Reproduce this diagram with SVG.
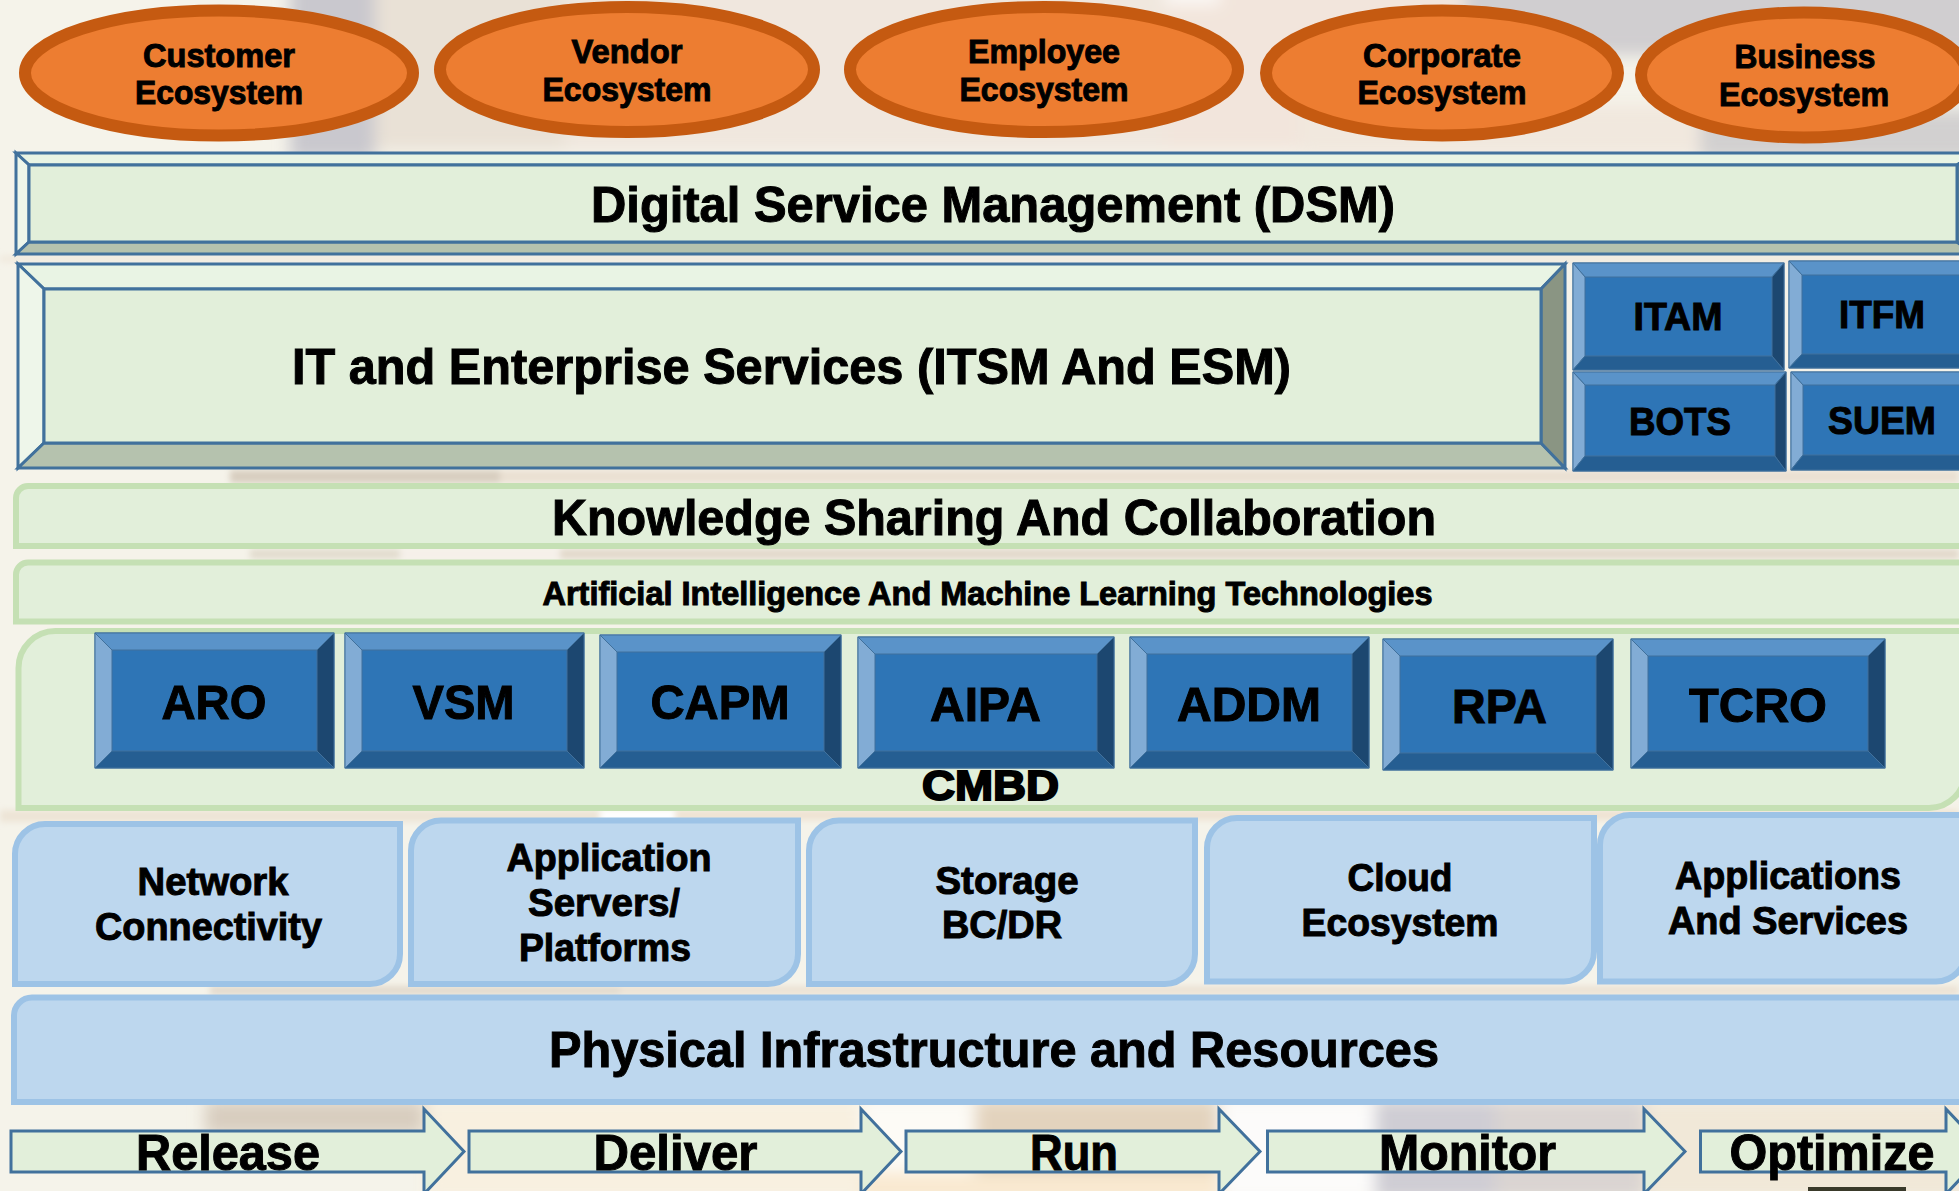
<svg xmlns="http://www.w3.org/2000/svg" width="1959" height="1191" viewBox="0 0 1959 1191">
<defs>
<filter id="blur" x="-20%" y="-20%" width="140%" height="140%"><feGaussianBlur stdDeviation="8"/></filter>
<filter id="soft" x="-5%" y="-50%" width="110%" height="200%"><feGaussianBlur stdDeviation="3"/></filter>
</defs>
<style>
text{font-family:"Liberation Sans",Arial,sans-serif;font-weight:700;fill:#000;stroke:#000;stroke-width:1;text-anchor:middle}
.eco{fill:#ED7D31;stroke:#C55A11;stroke-width:12}
.e{font-size:34px}
.big{font-size:50px}
.btn{font-size:49px}
.sm{font-size:39px}
.lb{font-size:38px}
.ar{font-size:50px}
.bl{stroke:#41719C;stroke-width:3;stroke-linejoin:miter}
.g0{fill:#E2EFDA}.g1{fill:#E9F4E4}.g2{fill:#EEF6EA}.g3{fill:#B5C2AE}.g4{fill:#8A9583}
.kb{fill:#E2EFDA;stroke:#C5E0B4;stroke-width:6}
.lbx{fill:#BDD7EE;stroke:#9DC3E6;stroke-width:6}
.bevel polygon,.bevel rect{stroke:#41719C;stroke-width:1}
.m{fill:#2E75B6}.t{fill:#5A93C9}.l{fill:#82ACD5}.b{fill:#255E92}.r{fill:#1C4770}
</style>
<g id="background">
<rect width="1959" height="1191" fill="#F5F3EA"/>
<g filter="url(#blur)">
<rect x="375" y="-20" width="190" height="170" fill="#E9E1D6"/>
<rect x="565" y="-20" width="600" height="170" fill="#F0E7DE"/>
<rect x="1165" y="-20" width="300" height="170" fill="#F2E5DC"/>
<rect x="1165" y="-20" width="55" height="25" fill="#FBF8F4"/>
<rect x="1465" y="-20" width="520" height="75" fill="#D0CED0"/>
<rect x="1300" y="105" width="400" height="50" fill="#F1E8DE"/>
<rect x="1700" y="110" width="280" height="50" fill="#D2D0D0"/>
<rect x="290" y="-20" width="85" height="180" fill="#C9C8CE"/>
<rect x="205" y="1100" width="220" height="35" fill="#D8CDBF"/>
<rect x="425" y="1100" width="437" height="100" fill="#F8F0E0"/>
<rect x="862" y="1100" width="115" height="100" fill="#FDFBF6"/>
<rect x="975" y="1100" width="244" height="100" fill="#E3D3BD"/>
<rect x="1219" y="1100" width="156" height="100" fill="#FCFBFA"/>
<rect x="1375" y="1100" width="120" height="100" fill="#CFCDD4"/>
<rect x="1495" y="1100" width="150" height="100" fill="#DAD4D2"/>
<rect x="1645" y="1100" width="320" height="100" fill="#F1E8D8"/>
<rect x="862" y="1172" width="360" height="30" fill="#F9E9D0"/>
</g>
<g filter="url(#soft)">
<rect x="0" y="256" width="1959" height="6" fill="#F0E8DC"/>
<rect x="230" y="470" width="270" height="13" fill="#D8CEC0"/>
<rect x="500" y="470" width="1459" height="13" fill="#EAE0D2"/>
<rect x="250" y="549" width="150" height="10" fill="#E2DCCE"/>
<rect x="400" y="549" width="160" height="10" fill="#F6F0EA"/>
<rect x="560" y="549" width="1399" height="10" fill="#E2D8CA"/>
<rect x="0" y="810" width="600" height="12" fill="#EDE4D6"/>
<rect x="600" y="810" width="75" height="12" fill="#FFFFFF"/>
<rect x="675" y="810" width="1284" height="10" fill="#EEE2D2"/>
<rect x="210" y="986" width="410" height="9" fill="#E2D9CC"/>
<rect x="620" y="986" width="1339" height="9" fill="#EBE1D3"/>
</g>
<rect x="1808" y="1187" width="98" height="4" fill="#3A3A2A"/>
</g>
<g id="connectors"/>
<g id="customer-ecosystem"><ellipse class="eco" cx="219" cy="73" rx="194" ry="62.5"/><text class="e" x="219" y="67" textLength="152" lengthAdjust="spacingAndGlyphs">Customer</text><text class="e" x="219" y="104" textLength="168" lengthAdjust="spacingAndGlyphs">Ecosystem</text></g>
<g id="vendor-ecosystem"><ellipse class="eco" cx="627" cy="69.5" rx="187" ry="62.5"/><text class="e" x="627" y="62.5" textLength="111" lengthAdjust="spacingAndGlyphs">Vendor</text><text class="e" x="627" y="100.5" textLength="169" lengthAdjust="spacingAndGlyphs">Ecosystem</text></g>
<g id="employee-ecosystem"><ellipse class="eco" cx="1044" cy="69.5" rx="194" ry="62.5"/><text class="e" x="1044" y="62.5" textLength="152" lengthAdjust="spacingAndGlyphs">Employee</text><text class="e" x="1044" y="100.5" textLength="169" lengthAdjust="spacingAndGlyphs">Ecosystem</text></g>
<g id="corporate-ecosystem"><ellipse class="eco" cx="1442" cy="73" rx="176" ry="62.5"/><text class="e" x="1442" y="67" textLength="158" lengthAdjust="spacingAndGlyphs">Corporate</text><text class="e" x="1442" y="104" textLength="169" lengthAdjust="spacingAndGlyphs">Ecosystem</text></g>
<g id="business-ecosystem"><ellipse class="eco" cx="1804" cy="75" rx="163" ry="62.5"/><text class="e" x="1805" y="68" textLength="141" lengthAdjust="spacingAndGlyphs">Business</text><text class="e" x="1804" y="106" textLength="170" lengthAdjust="spacingAndGlyphs">Ecosystem</text></g>
<g id="dsm">
<polygon class="bl g1" points="16,153 1975,153 1957,165 29,165"/>
<polygon class="bl g2" points="16,153 29,165 29,242 16,254"/>
<polygon class="bl g3" points="16,254 29,242 1957,242 1975,254"/>
<polygon class="bl g4" points="1975,153 1957,165 1957,242 1975,254"/>
<rect class="bl g0" x="29" y="165" width="1928" height="77"/>
<text class="big" x="993" y="222" textLength="804" lengthAdjust="spacingAndGlyphs">Digital Service Management (DSM)</text>
</g>
<g id="itsm-esm">
<polygon class="bl g1" points="18,264 1565,264 1541,289 44,289"/>
<polygon class="bl g2" points="18,264 44,289 44,443 18,468"/>
<polygon class="bl g3" points="18,468 44,443 1541,443 1565,468"/>
<polygon class="bl g4" points="1565,264 1541,289 1541,443 1565,468"/>
<rect class="bl g0" x="44" y="289" width="1497" height="154"/>
<text class="big" x="791.500" y="384" textLength="999" lengthAdjust="spacingAndGlyphs">IT and Enterprise Services (ITSM And ESM)</text>
</g>
<g id="itam" class="bevel">
<rect class="m" x="1573" y="263" width="211" height="107"/>
<polygon class="t" points="1573,263 1784,263 1772,277 1585,277"/><polygon class="l" points="1573,263 1585,277 1585,356 1573,370"/><polygon class="b" points="1573,370 1585,356 1772,356 1784,370"/><polygon class="r" points="1784,263 1772,277 1772,356 1784,370"/>
<text class="sm" x="1678" y="330" textLength="89" lengthAdjust="spacingAndGlyphs">ITAM</text>
</g>
<g id="itfm" class="bevel">
<rect class="m" x="1789" y="261" width="186" height="107"/>
<polygon class="t" points="1789,261 1975,261 1962,275 1802,275"/><polygon class="l" points="1789,261 1802,275 1802,354 1789,368"/><polygon class="b" points="1789,368 1802,354 1962,354 1975,368"/><polygon class="r" points="1975,261 1962,275 1962,354 1975,368"/>
<text class="sm" x="1882" y="328" textLength="86" lengthAdjust="spacingAndGlyphs">ITFM</text>
</g>
<g id="bots" class="bevel">
<rect class="m" x="1573" y="372" width="213" height="99"/>
<polygon class="t" points="1573,372 1786,372 1775,385 1585,385"/><polygon class="l" points="1573,372 1585,385 1585,456 1573,471"/><polygon class="b" points="1573,471 1585,456 1775,456 1786,471"/><polygon class="r" points="1786,372 1775,385 1775,456 1786,471"/>
<text class="sm" x="1680" y="435" textLength="102" lengthAdjust="spacingAndGlyphs">BOTS</text>
</g>
<g id="suem" class="bevel">
<rect class="m" x="1791" y="372" width="184" height="98"/>
<polygon class="t" points="1791,372 1975,372 1962,385 1803,385"/><polygon class="l" points="1791,372 1803,385 1803,455 1791,470"/><polygon class="b" points="1791,470 1803,455 1962,455 1975,470"/><polygon class="r" points="1975,372 1962,385 1962,455 1975,470"/>
<text class="sm" x="1882" y="434" textLength="108" lengthAdjust="spacingAndGlyphs">SUEM</text>
</g>
<g id="knowledge">
<path class="kb" d="M16,546V498A12,12 0 0 1 28,486H1975V546Z"/>
<text class="big" x="994" y="534.500" textLength="884" lengthAdjust="spacingAndGlyphs">Knowledge Sharing And Collaboration</text>
</g>
<g id="ai-ml">
<path class="kb" d="M16,621.500V574.500A12,12 0 0 1 28,562.500H1975V621.500Z"/>
<text x="987.500" y="605" font-size="33" textLength="890" lengthAdjust="spacingAndGlyphs">Artificial Intelligence And Machine Learning Technologies</text>
</g>
<g id="cmbd">
<path class="kb" d="M18.500,808V668A37,37 0 0 1 55.500,631H1965V772A36,36 0 0 1 1929,808Z"/>
<text x="990.500" y="800" font-size="42" style="stroke-width:2px" textLength="137" lengthAdjust="spacingAndGlyphs">CMBD</text>
</g>
<g id="aro" class="bevel">
<rect class="m" x="95" y="633" width="239" height="135"/>
<polygon class="t" points="95,633 334,633 317,650 112,650"/><polygon class="l" points="95,633 112,650 112,751 95,768"/><polygon class="b" points="95,768 112,751 317,751 334,768"/><polygon class="r" points="334,633 317,650 317,751 334,768"/>
<text class="btn" x="214" y="718.500" textLength="105" lengthAdjust="spacingAndGlyphs">ARO</text>
</g>
<g id="vsm" class="bevel">
<rect class="m" x="345" y="633" width="239" height="135"/>
<polygon class="t" points="345,633 584,633 567,650 362,650"/><polygon class="l" points="345,633 362,650 362,751 345,768"/><polygon class="b" points="345,768 362,751 567,751 584,768"/><polygon class="r" points="584,633 567,650 567,751 584,768"/>
<text class="btn" x="463.500" y="718.500" textLength="102" lengthAdjust="spacingAndGlyphs">VSM</text>
</g>
<g id="capm" class="bevel">
<rect class="m" x="600" y="635" width="241" height="133"/>
<polygon class="t" points="600,635 841,635 824,652 617,652"/><polygon class="l" points="600,635 617,652 617,751 600,768"/><polygon class="b" points="600,768 617,751 824,751 841,768"/><polygon class="r" points="841,635 824,652 824,751 841,768"/>
<text class="btn" x="720" y="719" textLength="139" lengthAdjust="spacingAndGlyphs">CAPM</text>
</g>
<g id="aipa" class="bevel">
<rect class="m" x="858" y="637" width="256" height="131"/>
<polygon class="t" points="858,637 1114,637 1097,654 875,654"/><polygon class="l" points="858,637 875,654 875,751 858,768"/><polygon class="b" points="858,768 875,751 1097,751 1114,768"/><polygon class="r" points="1114,637 1097,654 1097,751 1114,768"/>
<text class="btn" x="985.500" y="720.500" textLength="111" lengthAdjust="spacingAndGlyphs">AIPA</text>
</g>
<g id="addm" class="bevel">
<rect class="m" x="1130" y="637" width="239" height="131"/>
<polygon class="t" points="1130,637 1369,637 1352,654 1147,654"/><polygon class="l" points="1130,637 1147,654 1147,751 1130,768"/><polygon class="b" points="1130,768 1147,751 1352,751 1369,768"/><polygon class="r" points="1369,637 1352,654 1352,751 1369,768"/>
<text class="btn" x="1249" y="720.500" textLength="144" lengthAdjust="spacingAndGlyphs">ADDM</text>
</g>
<g id="rpa" class="bevel">
<rect class="m" x="1383" y="639" width="230" height="131"/>
<polygon class="t" points="1383,639 1613,639 1596,656 1400,656"/><polygon class="l" points="1383,639 1400,656 1400,753 1383,770"/><polygon class="b" points="1383,770 1400,753 1596,753 1613,770"/><polygon class="r" points="1613,639 1596,656 1596,753 1613,770"/>
<text class="btn" x="1499.500" y="723" textLength="95" lengthAdjust="spacingAndGlyphs">RPA</text>
</g>
<g id="tcro" class="bevel">
<rect class="m" x="1631" y="639" width="254" height="129"/>
<polygon class="t" points="1631,639 1885,639 1868,656 1648,656"/><polygon class="l" points="1631,639 1648,656 1648,751 1631,768"/><polygon class="b" points="1631,768 1648,751 1868,751 1885,768"/><polygon class="r" points="1885,639 1868,656 1868,751 1885,768"/>
<text class="btn" x="1758" y="722" textLength="138" lengthAdjust="spacingAndGlyphs">TCRO</text>
</g>
<g id="network">
<path class="lbx" d="M15,984V854A30,30 0 0 1 45,824H400V954A30,30 0 0 1 370,984Z"/>
<text class="lb" x="213" y="895" textLength="151" lengthAdjust="spacingAndGlyphs">Network</text><text class="lb" x="208.500" y="940" textLength="227" lengthAdjust="spacingAndGlyphs">Connectivity</text>
</g>
<g id="application">
<path class="lbx" d="M411,984V850.500A30,30 0 0 1 441,820.500H798V954A30,30 0 0 1 768,984Z"/>
<text class="lb" x="609" y="871" textLength="205" lengthAdjust="spacingAndGlyphs">Application</text><text class="lb" x="604" y="916" textLength="152" lengthAdjust="spacingAndGlyphs">Servers/</text><text class="lb" x="605" y="961" textLength="172" lengthAdjust="spacingAndGlyphs">Platforms</text>
</g>
<g id="storage">
<path class="lbx" d="M809,984V850.500A30,30 0 0 1 839,820.500H1195V954A30,30 0 0 1 1165,984Z"/>
<text class="lb" x="1007" y="894" textLength="143" lengthAdjust="spacingAndGlyphs">Storage</text><text class="lb" x="1002" y="938" textLength="120" lengthAdjust="spacingAndGlyphs">BC/DR</text>
</g>
<g id="cloud">
<path class="lbx" d="M1207,981.500V848A30,30 0 0 1 1237,818H1594V951.500A30,30 0 0 1 1564,981.500Z"/>
<text class="lb" x="1400" y="891" textLength="105" lengthAdjust="spacingAndGlyphs">Cloud</text><text class="lb" x="1400" y="935.500" textLength="197" lengthAdjust="spacingAndGlyphs">Ecosystem</text>
</g>
<g id="applications">
<path class="lbx" d="M1600,981.500V845A30,30 0 0 1 1630,815H1966V951.500A30,30 0 0 1 1936,981.500Z"/>
<text class="lb" x="1788" y="889" textLength="226" lengthAdjust="spacingAndGlyphs">Applications</text><text class="lb" x="1788" y="934" textLength="240" lengthAdjust="spacingAndGlyphs">And Services</text>
</g>
<g id="physical">
<path class="lbx" d="M14,1102V1015.500A18,18 0 0 1 32,997.500H1975V1102Z"/>
<text class="big" x="994" y="1067" textLength="890" lengthAdjust="spacingAndGlyphs">Physical Infrastructure and Resources</text>
</g>
<g id="release">
<path class="bl g0" d="M11,1131H424V1109L464,1151.500L424,1194V1172H11Z"/>
<text class="ar" x="228" y="1169.500" textLength="184" lengthAdjust="spacingAndGlyphs">Release</text>
</g>
<g id="deliver">
<path class="bl g0" d="M469,1131H861V1109L901,1151.500L861,1194V1172H469Z"/>
<text class="ar" x="675.500" y="1169.500" textLength="164" lengthAdjust="spacingAndGlyphs">Deliver</text>
</g>
<g id="run">
<path class="bl g0" d="M906,1131H1219V1109L1260,1151.500L1219,1194V1172H906Z"/>
<text class="ar" x="1074" y="1169.500" textLength="88" lengthAdjust="spacingAndGlyphs">Run</text>
</g>
<g id="monitor">
<path class="bl g0" d="M1267.500,1131H1644V1109L1685,1151.500L1644,1194V1172H1267.500Z"/>
<text class="ar" x="1467.500" y="1169.500" textLength="177" lengthAdjust="spacingAndGlyphs">Monitor</text>
</g>
<g id="optimize">
<path class="bl g0" d="M1700.500,1131H1946V1109L1986,1151.500L1946,1194V1172H1700.500Z"/>
<text class="ar" x="1832" y="1169.500" textLength="205" lengthAdjust="spacingAndGlyphs">Optimize</text>
</g>
</svg>
